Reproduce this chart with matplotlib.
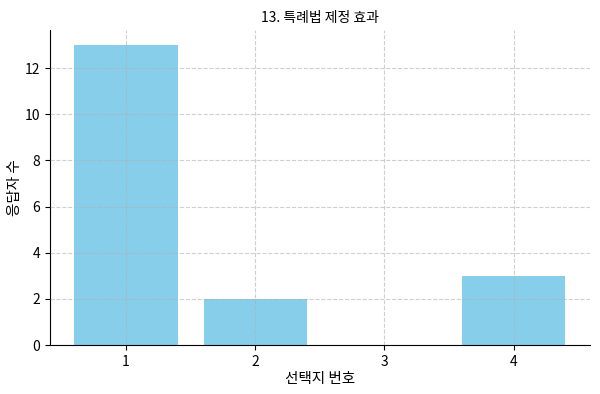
import matplotlib.pyplot as plt

plt.rcParams['font.family'] = ['Noto Sans CJK KR', 'DejaVu Sans']

choices = [1, 2, 3, 4]
counts = [13, 2, 0, 3]

fig, ax = plt.subplots(figsize=(6, 3.94), dpi=100)
ax.bar(choices, counts, color='skyblue', width=0.8)
ax.set_title('13. 특례법 제정 효과', fontsize=10)
ax.set_xlabel('선택지 번호', fontsize=10.5, labelpad=2)
ax.set_ylabel('응답자 수', fontsize=10.5, labelpad=2)
ax.set_xticks(choices)
ax.grid(True, linestyle='--', alpha=0.6)
ax.set_axisbelow(False)
ax.spines['top'].set_visible(False)
ax.spines['right'].set_visible(False)
ax.tick_params(labelsize=10)
fig.subplots_adjust(left=0.083, right=0.983, bottom=0.124, top=0.924)
plt.savefig('out.png')
